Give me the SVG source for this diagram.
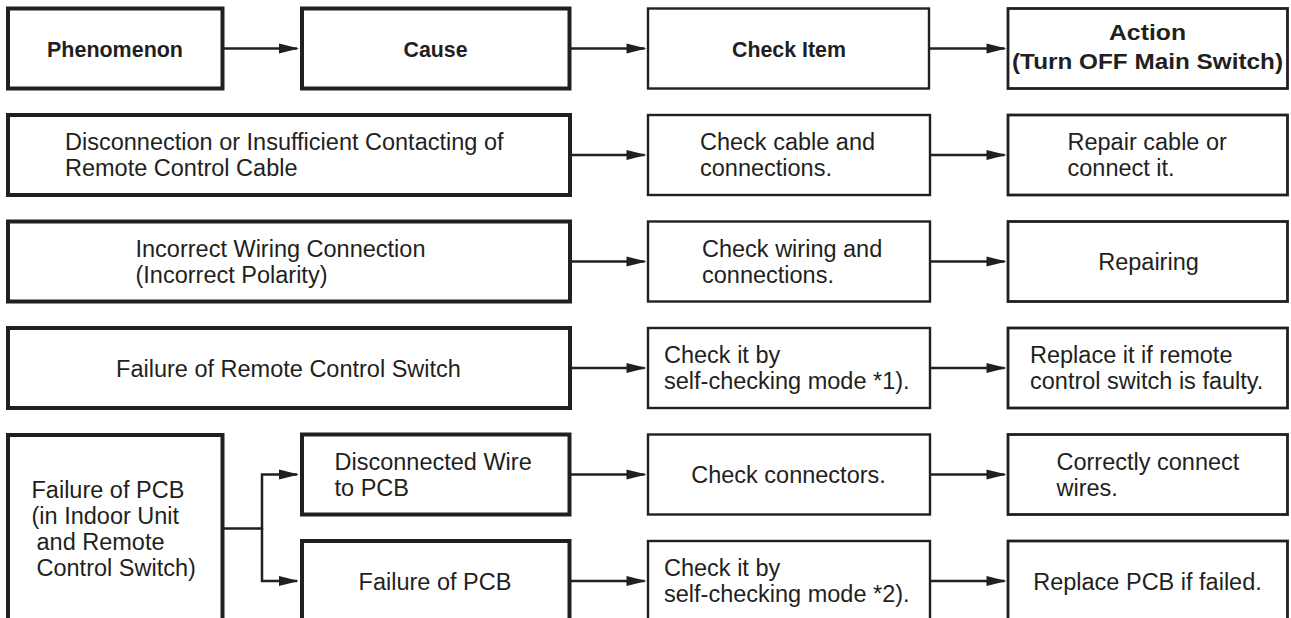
<svg xmlns="http://www.w3.org/2000/svg" width="1291" height="618" viewBox="0 0 1291 618">
<style>
.thick{fill:#fff;stroke:#231f20;stroke-width:4}
.thin{fill:#fff;stroke:#231f20;stroke-width:2.4}
.mid{fill:#fff;stroke:#231f20;stroke-width:2.8}
text{font-family:"Liberation Sans",Arial,Helvetica,sans-serif;font-size:23.5px;fill:#231f20}
text.h{font-weight:bold;font-size:22.5px}
.c{text-anchor:middle}
.conn{fill:none;stroke:#231f20;stroke-width:2.5}
</style>
<defs>
<marker id="ah" markerUnits="userSpaceOnUse" markerWidth="20" markerHeight="10" refX="18" refY="5" orient="auto" overflow="visible">
<path d="M0,0 L20,5 L0,10 z" fill="#231f20"/>
</marker>
</defs>
<rect width="1291" height="618" fill="#fff"/>

<g id="connectors">
<path class="conn" d="M224,48.5 H297" marker-end="url(#ah)"/>
<path class="conn" d="M571,48.5 H644.5" marker-end="url(#ah)"/>
<path class="conn" d="M930,48.5 H1004.5" marker-end="url(#ah)"/>
<path class="conn" d="M572,155 H644.5" marker-end="url(#ah)"/>
<path class="conn" d="M931,155 H1004.5" marker-end="url(#ah)"/>
<path class="conn" d="M572,261.5 H644.5" marker-end="url(#ah)"/>
<path class="conn" d="M931,261.5 H1004.5" marker-end="url(#ah)"/>
<path class="conn" d="M572,368 H644.5" marker-end="url(#ah)"/>
<path class="conn" d="M931,368 H1004.5" marker-end="url(#ah)"/>
<path class="conn" d="M224,528.5 H262 V474.5 H297" marker-end="url(#ah)"/>
<path class="conn" d="M262,528.5 V581 H297" marker-end="url(#ah)"/>
<path class="conn" d="M571,474.5 H644.5" marker-end="url(#ah)"/>
<path class="conn" d="M931,474.5 H1004.5" marker-end="url(#ah)"/>
<path class="conn" d="M571,581 H644.5" marker-end="url(#ah)"/>
<path class="conn" d="M931,581 H1004.5" marker-end="url(#ah)"/>
</g>

<g id="hdr-phenomenon"><rect class="thick" x="8" y="8.5" width="214.5" height="80"/><text class="h c" x="115" y="56.5" textLength="136" lengthAdjust="spacingAndGlyphs">Phenomenon</text></g>
<g id="hdr-cause"><rect class="thick" x="302" y="8.5" width="267.5" height="80"/><text class="h c" x="435.5" y="56.5" textLength="64" lengthAdjust="spacingAndGlyphs">Cause</text></g>
<g id="hdr-check"><rect class="thin" x="648" y="8.5" width="281" height="80"/><text class="h c" x="789" y="56.5" textLength="114" lengthAdjust="spacingAndGlyphs">Check Item</text></g>
<g id="hdr-action"><rect class="mid" x="1008" y="8.5" width="279.5" height="80"/><text class="h c" x="1147.5" y="40" textLength="77" lengthAdjust="spacingAndGlyphs">Action</text><text class="h c" x="1147.5" y="69" textLength="271" lengthAdjust="spacingAndGlyphs">(Turn OFF Main Switch)</text></g>

<g id="cause-cable"><rect class="thick" x="8" y="115" width="562" height="80"/><text x="65" y="150">Disconnection or Insufficient Contacting of</text><text x="65" y="176">Remote Control Cable</text></g>
<g id="check-cable"><rect class="thin" x="648" y="115" width="282" height="80"/><text x="700" y="150">Check cable and</text><text x="700" y="176">connections.</text></g>
<g id="action-cable"><rect class="mid" x="1008" y="115" width="279.5" height="80"/><text x="1067.5" y="150">Repair cable or</text><text x="1067.5" y="176">connect it.</text></g>

<g id="cause-wiring"><rect class="thick" x="8" y="221.5" width="562" height="80"/><text x="135.5" y="256.5">Incorrect Wiring Connection</text><text x="135.5" y="282.5">(Incorrect Polarity)</text></g>
<g id="check-wiring"><rect class="thin" x="648" y="221.5" width="282" height="80"/><text x="702" y="256.5">Check wiring and</text><text x="702" y="282.5">connections.</text></g>
<g id="action-wiring"><rect class="mid" x="1008" y="221.5" width="279.5" height="80"/><text class="c" x="1148.5" y="270">Repairing</text></g>

<g id="cause-switch"><rect class="thick" x="8" y="328" width="562" height="80"/><text class="c" x="288.5" y="376.5">Failure of Remote Control Switch</text></g>
<g id="check-switch"><rect class="thin" x="648" y="328" width="282" height="80"/><text x="664" y="363">Check it by</text><text x="664" y="389">self-checking mode *1).</text></g>
<g id="action-switch"><rect class="mid" x="1008" y="328" width="279.5" height="80"/><text x="1030" y="363">Replace it if remote</text><text x="1030" y="389">control switch is faulty.</text></g>

<g id="phen-pcb"><rect class="thick" x="8" y="435" width="214.5" height="200"/><text x="31.5" y="497.5">Failure of PCB</text><text x="31.5" y="523.5">(in Indoor Unit</text><text x="36.5" y="549.5">and Remote</text><text x="36.5" y="575.5">Control Switch)</text></g>
<g id="cause-wire"><rect class="thick" x="302" y="434.5" width="267.5" height="80"/><text x="334.5" y="469.5">Disconnected Wire</text><text x="334.5" y="495.5">to PCB</text></g>
<g id="check-connectors"><rect class="thin" x="648" y="434.5" width="282" height="80"/><text class="c" x="788.5" y="483">Check connectors.</text></g>
<g id="action-wires"><rect class="mid" x="1008" y="434.5" width="279.5" height="80"/><text x="1056.5" y="469.5">Correctly connect</text><text x="1056.5" y="495.5">wires.</text></g>

<g id="cause-pcb"><rect class="thick" x="302" y="541" width="267.5" height="90"/><text class="c" x="435" y="589.5">Failure of PCB</text></g>
<g id="check-pcb"><rect class="thin" x="648" y="541" width="282" height="90"/><text x="664" y="576">Check it by</text><text x="664" y="602">self-checking mode *2).</text></g>
<g id="action-pcb"><rect class="mid" x="1008" y="541" width="279.5" height="90"/><text class="c" x="1147.5" y="589.5">Replace PCB if failed.</text></g>
</svg>
